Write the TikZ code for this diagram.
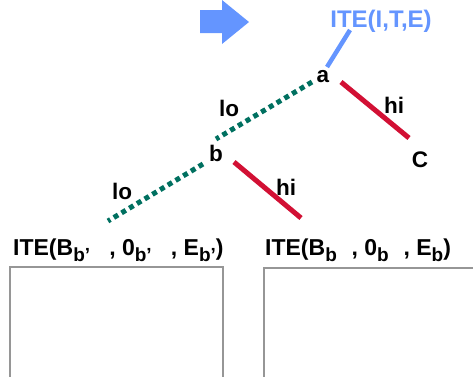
\documentclass[tikz,border=0pt]{standalone}
\usepackage{fontspec}
\setmainfont{Liberation Sans}
\definecolor{iteblue}{RGB}{100,149,255}
\definecolor{loteal}{RGB}{0,112,96}
\definecolor{hired}{RGB}{210,16,52}
\definecolor{boxgray}{RGB}{150,150,150}
\newcommand{\lowsub}[1]{\raisebox{-6.5pt}{\fontsize{19}{20}\selectfont #1}}
\tikzset{
  lbl/.style={font=\bfseries\fontsize{22.5}{24}\selectfont, inner sep=0pt},
  itelbl/.style={font=\bfseries\fontsize{23}{24}\selectfont, inner sep=0pt, anchor=base west},
  loedge/.style={loteal, line width=5pt, dash pattern=on 5pt off 4pt},
  hiedge/.style={hired, line width=5pt},
  topedge/.style={iteblue, line width=4.5pt}
}
\begin{document}
\begin{tikzpicture}[x=1pt,y=-1pt]
  \useasboundingbox (0,0) rectangle (473,376);
  \clip (0,0) rectangle (473,376);

  \fill[iteblue] (200,10) -- (222,10) -- (222,0) -- (249,22) -- (222,44) -- (222,33) -- (200,33) -- cycle;
  \node[lbl, iteblue, font=\bfseries\fontsize{24}{25}\selectfont] (top) at (381,21) {ITE(I,T,E)};

  \node[lbl] (a) at (323,77) {a};
  \node[lbl] (b) at (216,153) {b};
  \node[lbl] (c) at (420,160) {C};
  \node[lbl] (lo1) at (229,108) {lo};
  \node[lbl] (lo2) at (122,191) {lo};
  \node[lbl] (hi1) at (394,105) {hi};
  \node[lbl] (hi2) at (286,187) {hi};

  \coordinate (top-s) at (350,30);
  \coordinate (a-n) at (327,67);
  \coordinate (a-lo) at (312,82);
  \coordinate (a-hi) at (341,82);
  \coordinate (c-n) at (409,138);
  \coordinate (b-n) at (216,139);
  \coordinate (b-lo) at (203,164);
  \coordinate (b-hi) at (234,162);
  \coordinate (lo-end) at (108,221);
  \coordinate (hi-end) at (301,218);

  \draw[topedge] (top-s) -- (a-n);
  \draw[loedge] (a-lo) -- (b-n);
  \draw[hiedge] (a-hi) -- (c-n);
  \draw[loedge] (b-lo) -- (lo-end);
  \draw[hiedge] (b-hi) -- (hi-end);

  \node[itelbl] (lft) at (13,255) {ITE(B\lowsub{b'}\ \ \ , 0\lowsub{b'}\ \ \ , E\lowsub{b'})};
  \node[itelbl] (rgt) at (265,255) {ITE(B\lowsub{b}\ \ \kern2pt, 0\lowsub{b}\ \ \kern2pt, E\lowsub{b})};

  \draw[boxgray, line width=2pt] (10,390) |- (223,267) -- (223,390);
  \draw[boxgray, line width=2pt] (264,390) |- (480,268);
\end{tikzpicture}
\end{document}
